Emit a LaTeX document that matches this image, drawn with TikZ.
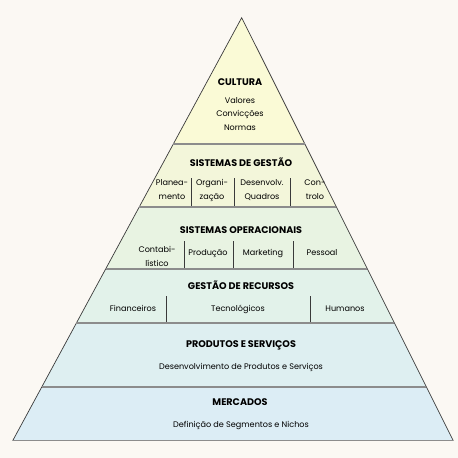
\documentclass[tikz,border=0pt]{standalone}
\usepackage{fontspec}
\setmainfont{Poppins}
\usetikzlibrary{calc}
\definecolor{bg}{HTML}{FBF8F3}
\definecolor{cCul}{HTML}{FAFAD6}
\definecolor{cGes}{HTML}{F3F6DA}
\definecolor{cOpe}{HTML}{E8F3E2}
\definecolor{cRec}{HTML}{E2F2EA}
\definecolor{cPro}{HTML}{DEEFF1}
\definecolor{cMer}{HTML}{DCEDF5}
\definecolor{hline}{HTML}{8C8C8C}
\definecolor{edge}{HTML}{3A3A3A}
\begin{document}
\begin{tikzpicture}[x=1pt,y=-1pt,
  head/.style={font=\fontsize{9.6}{11}\selectfont\bfseries, inner sep=0pt, anchor=base},
  txt/.style={font=\fontsize{8.1}{14}\selectfont, inner sep=0pt, align=center, anchor=base},
  sep/.style={draw=hline, line width=1.4pt},
  divider/.style={draw=edge, line width=0.8pt},
  side/.style={draw=edge, line width=0.7pt}]
\fill[bg] (0,0) rectangle (458,458);
\useasboundingbox (0,0) rectangle (458,458);
\coordinate (A) at (241.7,17.7);
\coordinate (L) at (12.7,440.7);
\coordinate (R) at (453.3,440.7);
% band boundaries as fractions from base
\foreach \n/\t in {a/1, b/0.7014, c/0.5525, d/0.4059, e/0.2783, f/0.1270, g/0}{
  \coordinate (L\n) at ($(L)!\t!(A)$);
  \coordinate (R\n) at ($(R)!\t!(A)$);
}
\fill[cCul] (A) -- (Rb) -- (Lb) -- cycle;
\fill[cGes] (Lb) -- (Rb) -- (Rc) -- (Lc) -- cycle;
\fill[cOpe] (Lc) -- (Rc) -- (Rd) -- (Ld) -- cycle;
\fill[cRec] (Ld) -- (Rd) -- (Re) -- (Le) -- cycle;
\fill[cPro] (Le) -- (Re) -- (Rf) -- (Lf) -- cycle;
\fill[cMer] (Lf) -- (Rf) -- (R) -- (L) -- cycle;
\draw[side] (L) -- (A) -- (R);
\foreach \n in {b,c,d,e,f,g}{ \draw[sep] (L\n) -- (R\n); }
% Cultura
\node[head] (cul) at (240,85) {CULTURA};
\node[txt] (val) at (240,103) {Valores};
\node[txt] (con) at (240,116.5) {Convicções};
\node[txt] (nor) at (240,130) {Normas};
% Sistemas de Gestao
\node[head] (sg) at (241,166) {SISTEMAS DE GESTÃO};
\node[txt] (sg1) at (172,199) {Planea-\\mento};
\node[txt] (sg2) at (212,199) {Organi-\\zação};
\node[txt] (sg3) at (262,199) {Desenvolv.\\Quadros};
\node[txt] (sg4) at (315,199) {Con-\\trolo};
\foreach \x in {191,234,290}{ \draw[divider] (\x,178) -- (\x,206); }
% Sistemas Operacionais
\node[head] (so) at (241,233) {SISTEMAS OPERACIONAIS};
\node[txt] (so1) at (157,266) {Contabi-\\lístico};
\node[txt] (so2) at (208,255) {Produção};
\node[txt] (so3) at (263,255) {Marketing};
\node[txt] (so4) at (322,255) {Pessoal};
\foreach \x in {184,233,293}{ \draw[divider] (\x,241) -- (\x,268); }
% Gestao de Recursos
\node[head] (gr) at (241,289) {GESTÃO DE RECURSOS};
\node[txt] (gr1) at (133,311) {Financeiros};
\node[txt] (gr2) at (238,311) {Tecnológicos};
\node[txt] (gr3) at (345,311) {Humanos};
\foreach \x in {166,310}{ \draw[divider] (\x,296) -- (\x,322); }
% Produtos e Servicos
\node[head] (ps) at (241,347) {PRODUTOS E SERVIÇOS};
\node[txt] (ps1) at (241,369) {Desenvolvimento de Produtos e Serviços};
% Mercados
\node[head] (me) at (240,405) {MERCADOS};
\node[txt] (me1) at (241,427) {Definição de Segmentos e Nichos};
\end{tikzpicture}
\end{document}
